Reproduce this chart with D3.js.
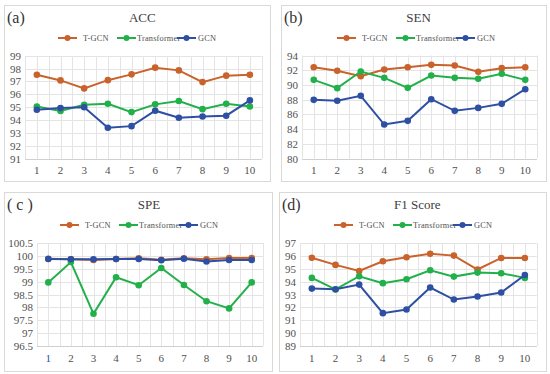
<!DOCTYPE html>
<html>
<head>
<meta charset="utf-8">
<script src="https://cdn.jsdelivr.net/npm/d3@7"></script>
<style>
  body { margin: 0; background: #fff; }
</style>
</head>
<body>
<div id="chart"></div>
<script>
// runs 1..10
var runs = [1, 2, 3, 4, 5, 6, 7, 8, 9, 10];
var seriesNames = ["T-GCN", "Transformer", "GCN"];

// (a) ACC
var accTGCN = [97.52, 97.08, 96.46, 97.1, 97.55, 98.07, 97.86, 96.95, 97.45, 97.52];
var accTransformer = [95.06, 94.7, 95.19, 95.27, 94.62, 95.22, 95.48, 94.85, 95.27, 95.06];
var accGCN = [94.8, 94.93, 95.0, 93.4, 93.53, 94.73, 94.18, 94.28, 94.34, 95.53];
var accTicks = [91, 92, 93, 94, 95, 96, 97, 98, 99];

// (b) SEN
var senTGCN = [92.41, 91.92, 91.19, 92.1, 92.41, 92.73, 92.64, 91.78, 92.28, 92.41];
var senTransformer = [90.69, 89.56, 91.83, 90.96, 89.6, 91.28, 90.96, 90.83, 91.51, 90.69];
var senGCN = [87.97, 87.84, 88.52, 84.62, 85.12, 88.06, 86.48, 86.88, 87.43, 89.42];
var senTicks = [80, 82, 84, 86, 88, 90, 92, 94];

// (c) SPE
var speTGCN = [99.89, 99.87, 99.84, 99.88, 99.91, 99.85, 99.91, 99.87, 99.92, 99.92];
var speTransformer = [98.97, 99.76, 97.75, 99.17, 98.86, 99.53, 98.87, 98.24, 97.96, 98.97];
var speGCN = [99.88, 99.87, 99.87, 99.88, 99.88, 99.83, 99.89, 99.78, 99.84, 99.84];
var speTicks = [96.5, 97, 97.5, 98, 98.5, 99, 99.5, 100, 100.5];

// (d) F1 Score
var f1TGCN = [95.86, 95.3, 94.83, 95.58, 95.89, 96.17, 96.02, 94.94, 95.84, 95.84];
var f1Transformer = [94.29, 93.39, 94.42, 93.88, 94.19, 94.88, 94.39, 94.7, 94.65, 94.29];
var f1GCN = [93.46, 93.41, 93.77, 91.55, 91.84, 93.54, 92.61, 92.85, 93.15, 94.52];
var f1Ticks = [89, 90, 91, 92, 93, 94, 95, 96, 97];

var colors = ["#c9622b", "#22b04b", "#2e50a2"];
var serif = "'Liberation Serif', 'DejaVu Serif', serif";
var textColor = "#505050";

var svg = d3.select("#chart").append("svg")
  .attr("width", 550)
  .attr("height", 374)
  .style("font-family", serif);

var panels = [
  {tag: "(a)", title: "ACC", box: [4, 5, 266, 176], plot: [25, 55.7, 236.7, 103], legendX: 58,
   series: [accTGCN, accTransformer, accGCN], ticks: accTicks},
  {tag: "(b)", title: "SEN", box: [281, 5, 265, 176], plot: [302, 55.5, 235, 103], legendX: 337,
   series: [senTGCN, senTransformer, senGCN], ticks: senTicks},
  {tag: "( c )", title: "SPE", box: [4, 192, 268, 179], plot: [37, 243, 226, 103], legendX: 60,
   series: [speTGCN, speTransformer, speGCN], ticks: speTicks},
  {tag: "(d)", title: "F1 Score", box: [279, 192, 267, 179], plot: [300, 243, 236.7, 103], legendX: 334,
   series: [f1TGCN, f1Transformer, f1GCN], ticks: f1Ticks}
];

panels.forEach(function(p) {
  var g = svg.append("g");

  // panel frame
  g.append("rect")
    .attr("x", p.box[0] + 0.5).attr("y", p.box[1] + 0.5)
    .attr("width", p.box[2]).attr("height", p.box[3])
    .attr("fill", "#fff")
    .attr("stroke", "#d9d9d9");

  g.append("text")
    .attr("x", p.box[0] + 3).attr("y", p.box[1] + 18)
    .style("font-family", serif)
    .style("font-size", "16px")
    .attr("fill", "#333")
    .text(p.tag);

  var px = p.plot[0], py = p.plot[1], pw = p.plot[2], ph = p.plot[3];

  g.append("text")
    .attr("x", px + pw / 2 - 1).attr("y", p.box[1] + 17)
    .attr("text-anchor", "middle")
    .style("font-family", serif)
    .style("font-size", "13px")
    .attr("fill", "#404040")
    .text(p.title);

  var x = d3.scaleBand().domain(runs).range([px, px + pw]);
  var y = d3.scaleLinear()
    .domain([p.ticks[0], p.ticks[p.ticks.length - 1]])
    .range([py + ph, py]);

  // grid: horizontal at ticks, vertical every half band
  var grid = g.append("g").attr("stroke", "#e4e4e4").attr("stroke-width", 1);
  p.ticks.forEach(function(t) {
    grid.append("line")
      .attr("x1", px).attr("x2", px + pw)
      .attr("y1", Math.round(y(t)) + 0.5).attr("y2", Math.round(y(t)) + 0.5);
  });
  d3.range(0, runs.length * 2 + 1).forEach(function(k) {
    var xv = px + k * x.bandwidth() / 2;
    grid.append("line")
      .attr("x1", Math.round(xv) + 0.5).attr("x2", Math.round(xv) + 0.5)
      .attr("y1", py).attr("y2", py + ph);
  });

  // bottom axis line
  g.append("line")
    .attr("x1", px).attr("x2", px + pw)
    .attr("y1", Math.round(py + ph) + 0.5).attr("y2", Math.round(py + ph) + 0.5)
    .attr("stroke", "#d0d0d0");

  var yAxis = d3.axisLeft(y).tickValues(p.ticks).tickSize(0).tickPadding(4)
    .tickFormat(function(d) { return d3.format("")(d); });
  var ya = g.append("g").attr("transform", "translate(" + px + ",0)").call(yAxis);
  ya.attr("font-family", null);
  ya.select(".domain").remove();
  ya.selectAll("text").style("font-family", serif).style("font-size", "11px").attr("fill", textColor);

  var xAxis = d3.axisBottom(x).tickSize(0).tickPadding(8);
  var xa = g.append("g").attr("transform", "translate(0," + (py + ph) + ")").call(xAxis);
  xa.attr("font-family", null);
  xa.select(".domain").remove();
  xa.selectAll("text").style("font-family", serif).style("font-size", "11px").attr("fill", textColor);
  if (p.title === "SPE") {
    xa.selectAll("text").filter(function(d) { return d === 1; }).attr("fill", "#2e50a2");
  }

  var line = d3.line()
    .x(function(d, i) { return x(runs[i]) + x.bandwidth() / 2; })
    .y(function(d) { return y(d); });

  p.series.forEach(function(vals, si) {
    var sg = g.append("g");
    sg.append("path")
      .datum(vals)
      .attr("d", line)
      .attr("fill", "none")
      .attr("stroke", colors[si])
      .attr("stroke-width", 2);
    sg.selectAll("circle")
      .data(vals)
      .enter()
      .append("circle")
      .attr("cx", function(d, i) { return x(runs[i]) + x.bandwidth() / 2; })
      .attr("cy", function(d) { return y(d); })
      .attr("r", 3.3)
      .attr("fill", colors[si]);
  });

  // legend
  var ly = p.box[1] + 33;
  var legendOffsets = [0, 59, 119];
  var textOffsets = [25, 20, 21];
  seriesNames.forEach(function(name, si) {
    var lx = p.legendX + legendOffsets[si];
    g.append("line")
      .attr("x1", lx).attr("x2", lx + 19)
      .attr("y1", ly).attr("y2", ly)
      .attr("stroke", colors[si]).attr("stroke-width", 2);
    g.append("circle")
      .attr("cx", lx + 9.5).attr("cy", ly).attr("r", 3)
      .attr("fill", colors[si]);
    g.append("text")
      .attr("x", lx + textOffsets[si]).attr("y", ly + 3)
      .style("font-family", serif)
      .style("font-size", "8.3px")
      .style("letter-spacing", "0.2px")
      .attr("fill", textColor)
      .text(name);
  });
});
</script>
</body>
</html>
